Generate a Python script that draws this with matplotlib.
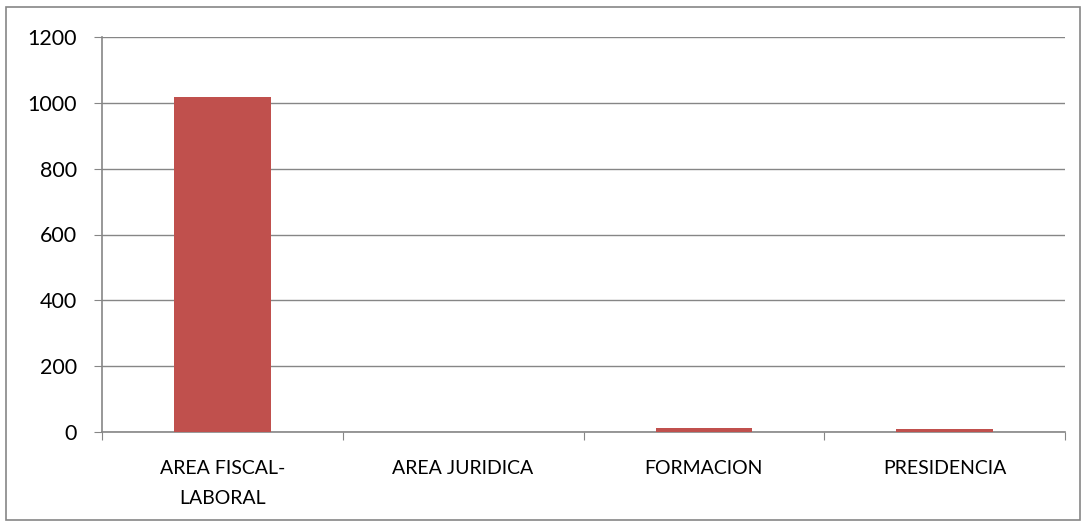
import matplotlib
matplotlib.use("Agg")
import matplotlib.pyplot as plt
from matplotlib.patches import Rectangle

categories = ["AREA FISCAL-\nLABORAL", "AREA JURIDICA", "FORMACION", "PRESIDENCIA"]
values = [1018, 0, 12, 9]
yticks = [0, 200, 400, 600, 800, 1000, 1200]

plt.rcParams['font.family'] = ['Lato', 'DejaVu Sans']

fig = plt.figure(figsize=(10.86, 5.27), dpi=100)
ax = fig.add_axes([102/1086, 1 - 432/527, (1065-102)/1086, (432-37)/527])

x = list(range(len(categories)))
ax.bar(x, values, width=0.4, color='#C0504D', zorder=3)

ax.set_xlim(-0.5, len(categories) - 0.5)
ax.set_ylim(0, 1200)
ax.set_yticks(yticks)
ax.set_yticklabels([str(t) for t in yticks], fontsize=15.5)
ax.grid(axis='y', color='#868686', linewidth=1, zorder=0)

ax.set_xticks([i - 0.5 for i in range(len(categories) + 1)])
ax.set_xticklabels([])
ax.set_xticks(x, minor=True)
ax.set_xticklabels(categories, minor=True, fontsize=14, linespacing=1.95)
ax.tick_params(axis='x', which='minor', length=0, pad=20)
ax.tick_params(axis='x', which='major', length=6, color='#868686', direction='out')
ax.tick_params(axis='y', length=6, color='#868686', direction='out', pad=12)

for s in ['top', 'right']:
    ax.spines[s].set_visible(False)
for s in ['left', 'bottom']:
    ax.spines[s].set_color('#868686')
    ax.spines[s].set_linewidth(1.2)

fig.patches.append(Rectangle((6/1086, 1 - 520/527), (1080-6)/1086, (520-7)/527,
                             transform=fig.transFigure, fill=False,
                             edgecolor='#868686', linewidth=1.2))

fig.savefig("out.png", dpi=100)
